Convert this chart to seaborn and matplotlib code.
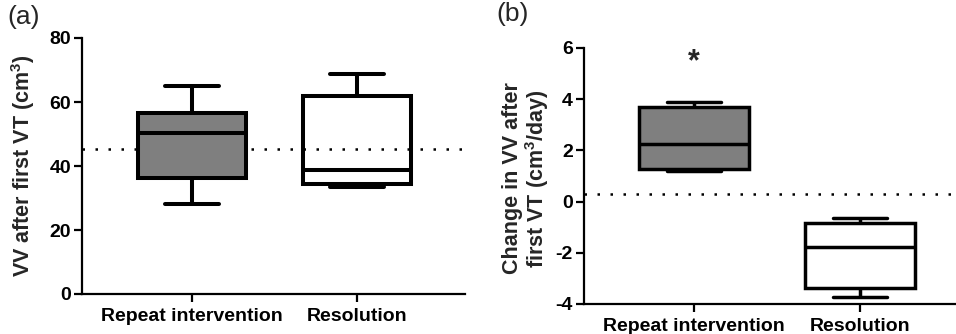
import matplotlib
matplotlib.use("Agg")
import matplotlib.pyplot as plt
import seaborn as sns
import pandas as pd

# ---- data (five-number summaries) ----
categories = ["Repeat intervention", "Resolution"]
# panel (a): VV after first VT (cm3) -> [min, q1, median, q3, max]
vv_repeat = [28.1, 36.3, 50.4, 56.7, 65.1]
vv_resolution = [33.3, 34.3, 38.7, 61.9, 68.6]
vv_reference = 45.2
# panel (b): change in VV (cm3/day)
dvv_repeat = [1.18, 1.26, 2.24, 3.68, 3.88]
dvv_resolution = [-3.71, -3.36, -1.79, -0.82, -0.63]
dvv_reference = 0.28
sig_label = "*"
sig_y = 5.15
a_ticks = [0, 20, 40, 60, 80]
b_ticks = [-4, -2, 0, 2, 4, 6]

sns.set_theme(style="ticks")
plt.rcParams["font.family"] = ["Liberation Sans", "DejaVu Sans"]
plt.rcParams["axes.unicode_minus"] = False
plt.rcParams["mathtext.fontset"] = "custom"
plt.rcParams["mathtext.bf"] = "Liberation Sans:bold"
plt.rcParams["mathtext.rm"] = "Liberation Sans"

fill_colors = {"Repeat intervention": "#7f7f7f", "Resolution": "#ffffff"}

def long_df(a, b):
    return pd.DataFrame({
        "group": [categories[0]] * len(a) + [categories[1]] * len(b),
        "value": list(a) + list(b),
    })

fig = plt.figure(figsize=(9.56, 3.34), dpi=100)
axa = fig.add_axes([82 / 956, 1 - 294 / 334, (465 - 82) / 956, (294 - 38) / 334])
axb = fig.add_axes([584 / 956, 1 - 304 / 334, (956 - 584) / 956, (304 - 48) / 334])

def draw(ax, a, b, ref, ticks, lw):
    df = long_df(a, b)
    sns.boxplot(data=df, x="group", y="value", hue="group", order=categories,
                palette=fill_colors, legend=False, whis=(0, 100), showfliers=False,
                width=0.66, linecolor="black", linewidth=lw, ax=ax, saturation=1)
    # the "Resolution" box is unfilled (reference line shows through it)
    ax.patches[1].set_facecolor("none")
    ax.axhline(ref, color="black", linestyle=(0, (1, 4.2)), linewidth=1.8, zorder=0.5)
    ax.set_yticks(ticks)
    ax.set_yticklabels([str(t) for t in ticks])
    ax.set_ylim(ticks[0], ticks[-1])
    ax.set_xlabel("")
    for s in ["top", "right"]:
        ax.spines[s].set_visible(False)
    for s in ["left", "bottom"]:
        ax.spines[s].set_linewidth(1.6)
        ax.spines[s].set_color("black")
    ax.tick_params(axis="both", direction="out", length=6, width=1.6, color="black",
                   labelsize=14, labelcolor="black")
    ax.tick_params(axis="y", pad=2)
    ax.tick_params(axis="x", pad=4)
    for lab in ax.get_xticklabels() + ax.get_yticklabels():
        lab.set_fontweight("bold")

draw(axa, vv_repeat, vv_resolution, vv_reference, a_ticks, 2.9)
axa.set_xlim(-0.667, 1.655)
axa.set_ylabel("VV after first VT (cm$\\mathbf{^3}$)", fontsize=15.5, fontweight="bold")
axa.yaxis.set_label_coords(-0.117, 0.5)

draw(axb, dvv_repeat, dvv_resolution, dvv_reference, b_ticks, 2.5)
axb.set_xlim(-0.663, 1.578)
axb.set_ylabel("Change in VV after\nfirst VT (cm$\\mathbf{^3}$/day)", fontsize=15.5,
               fontweight="bold", linespacing=1.0)
axb.yaxis.set_label_coords(-0.089, 0.49)
axb.text(0, sig_y, sig_label, ha="center", va="baseline", fontsize=22, fontweight="bold")

fig.text(7 / 956, 1 - 5 / 334, "(a)", ha="left", va="top", fontsize=19)
fig.text(496 / 956, 1 - 2 / 334, "(b)", ha="left", va="top", fontsize=19)

fig.savefig("out.png", dpi=100)
